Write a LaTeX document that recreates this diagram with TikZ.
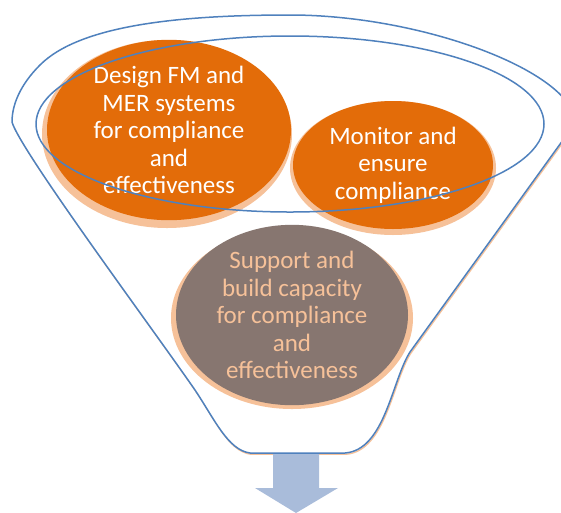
\documentclass[tikz,border=0pt]{standalone}
\usepackage{fontspec}
\setmainfont{Carlito}
\usetikzlibrary{shapes.geometric}
\definecolor{funnelblue}{HTML}{4F81BD}
\definecolor{deeporange}{HTML}{E36C09}
\definecolor{peach}{HTML}{F6C199}
\definecolor{taupe}{HTML}{877670}
\definecolor{arrowblue}{HTML}{A9BCDA}
\tikzset{
  funnel/.style={draw=funnelblue, line width=1.5pt, line join=round},
  funnelshade/.style={draw=peach, line width=1.3pt, line join=round,
    xshift=0.8pt, yshift=-1.3pt},
  halo/.style={ellipse, fill=peach, inner sep=0pt},
  bubble/.style={ellipse, inner sep=0pt, align=center,
    font=\fontsize{25pt}{27.5pt}\selectfont},
  orangebubble/.style={bubble, fill=deeporange, text=white},
  greybubble/.style={bubble, fill=taupe, text=peach},
}
% outline of the funnel body
\def\funneloutline{
  (250,453) -- (345,453)
  .. controls (385,450) and (392,380) .. (410,352)
  -- (576,122)
  .. controls (570,70) and (420,15) .. (290,15)
  .. controls (180,15) and (80,25) .. (40,65)
  .. controls (20,85) and (12,105) .. (12,122)
  .. controls (20,150) and (150,325) .. (195,390)
  .. controls (215,420) and (228,450) .. cycle}
\begin{document}
\begin{tikzpicture}[x=1pt, y=-1pt]
\useasboundingbox (0,0) rectangle (561,512);
\clip (0,0) rectangle (561,512);

% funnel body with a faint shadow
\draw[funnelshade] \funneloutline;
\draw[funnel, fill=white] \funneloutline;

% soft peach shadows behind the bubbles
\node[halo, minimum width=250pt, minimum height=188pt] at (167,134) {};
\node[halo, minimum width=206pt, minimum height=134pt] at (393,168) {};
\node[halo, minimum width=242pt, minimum height=182pt] at (292,318) {};

% bubbles
\node[orangebubble, minimum width=244pt, minimum height=180pt] (design) at (169,130)
  {Design FM and\\MER systems\\for compliance\\and\\effectiveness};
\node[orangebubble, minimum width=200pt, minimum height=128pt] (monitor) at (393,165)
  {Monitor and\\ensure\\compliance};
\node[greybubble, minimum width=232pt, minimum height=172pt] (support) at (292,315)
  {Support and\\build capacity\\for compliance\\and\\effectiveness};

% rim of the funnel
\draw[funnel] (290,124) ellipse [x radius=254, y radius=88];

% output arrow
\fill[arrowblue] (273,454) -- (319,454) -- (319,488) -- (338,488)
  -- (296,513) -- (255,488) -- (273,488) -- cycle;
\end{tikzpicture}
\end{document}
